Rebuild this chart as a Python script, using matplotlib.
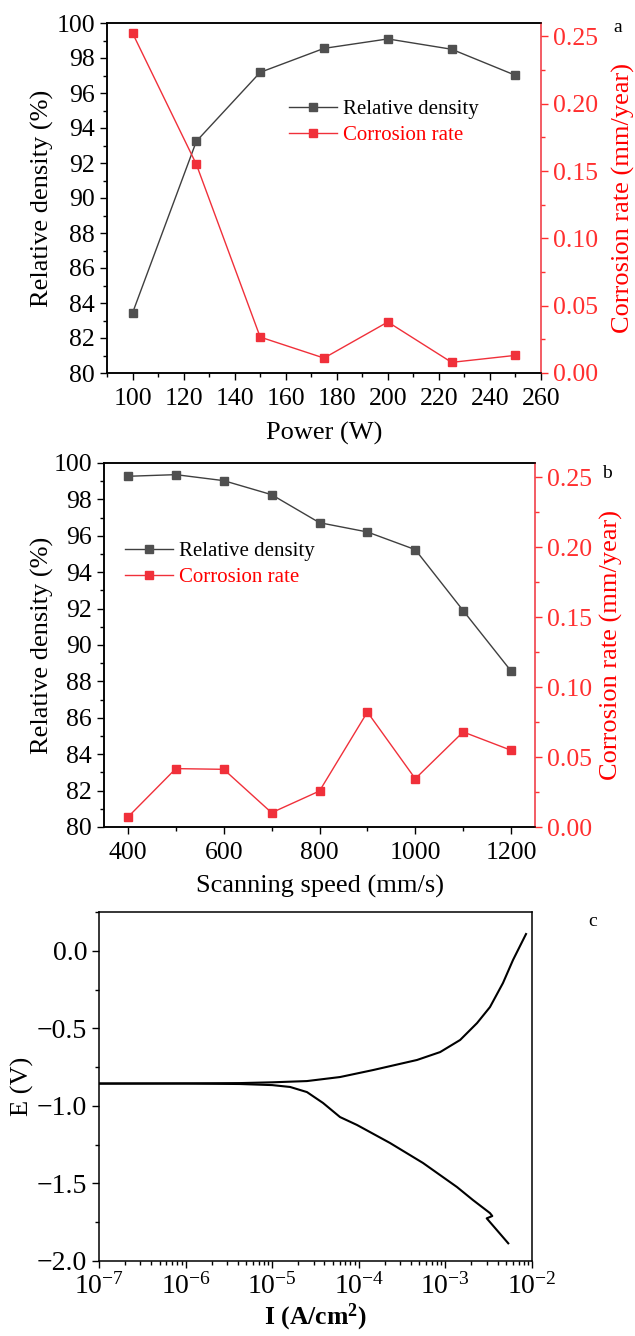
import matplotlib
matplotlib.use("Agg")
import matplotlib.pyplot as plt
import numpy as np
from matplotlib.ticker import (MultipleLocator, LogLocator, NullFormatter,
                               FormatStrFormatter, FuncFormatter)

plt.rcParams['font.family'] = ['Liberation Serif', 'DejaVu Serif']
plt.rcParams['mathtext.fontset'] = 'custom'
plt.rcParams['mathtext.rm'] = 'Liberation Serif'
plt.rcParams['mathtext.it'] = 'Liberation Serif:italic'
plt.rcParams['mathtext.bf'] = 'Liberation Serif:bold'
plt.rcParams['axes.unicode_minus'] = True

# ---- Panel a data ----
power = [100, 125, 150, 175, 200, 225, 250]
density_a = [83.43, 93.24, 97.18, 98.55, 99.09, 98.50, 97.01]
corrosion_a = [0.2525, 0.155, 0.0267, 0.0111, 0.0379, 0.0079, 0.0131]

# ---- Panel b data ----
speed = [400, 500, 600, 700, 800, 900, 1000, 1100, 1200]
density_b = [99.27, 99.36, 99.03, 98.26, 96.72, 96.21, 95.24, 91.89, 88.57]
corrosion_b = [0.0071, 0.0417, 0.0412, 0.0102, 0.0257, 0.0821, 0.0345, 0.0679, 0.0548]

# ---- Panel c data (polarization curve) ----
anodic_I = [1e-7, 1e-6, 4.25e-6, 1e-5, 2.52e-5, 6.07e-5, 1.46e-4, 4.7e-4, 8.7e-4,
            1.48e-3, 2.32e-3, 3.27e-3, 4.62e-3, 6.04e-3, 8.53e-3]
anodic_E = [-0.856, -0.855, -0.853, -0.848, -0.840, -0.814, -0.769, -0.704, -0.653,
            -0.575, -0.466, -0.363, -0.208, -0.059, 0.108]
cathodic_I = [1e-7, 1e-6, 4.25e-6, 1e-5, 1.61e-5, 2.52e-5, 3.86e-5, 6.07e-5, 9.53e-5,
              2.29e-4, 5.51e-4, 1.36e-3, 2.08e-3, 3.27e-3, 3.48e-3, 3.0e-3, 5.32e-3]
cathodic_E = [-0.856, -0.856, -0.859, -0.866, -0.878, -0.911, -0.981, -1.072, -1.123,
              -1.239, -1.368, -1.523, -1.607, -1.691, -1.710, -1.725, -1.886]

GRAY = '#3f3f3f'
MGRAY = '#505050'
RED = '#f0303a'
LRED = '#ff2f2f'

W, H = 635, 1336
fig = plt.figure(figsize=(W / 100, H / 100), dpi=100)


def ax_rect(left, top, right, bottom):
    return [left / W, 1 - bottom / H, (right - left) / W, (bottom - top) / H]


TICK_FS = 18.5
LABEL_FS = 19


def style_dual(ax, ax2, lpad_left, lpad_right):
    ax.tick_params(axis='both', which='major', direction='out', length=5, width=1,
                   labelsize=TICK_FS, colors='black')
    ax.tick_params(axis='x', which='major', pad=5.5)
    ax.tick_params(axis='both', which='minor', direction='out', length=3, width=1)
    ax.tick_params(axis='x', which='both', top=False)
    ax2.tick_params(axis='y', which='major', direction='out', length=5, width=1,
                    labelsize=TICK_FS, colors=LRED)
    ax2.tick_params(axis='y', which='minor', direction='out', length=3, width=1, colors=LRED)
    for s in ['left', 'bottom', 'top']:
        ax.spines[s].set_linewidth(1.1)
        ax2.spines[s].set_linewidth(1.1)
    ax2.spines['right'].set_color(RED)
    ax2.spines['right'].set_linewidth(1.1)
    ax.spines['right'].set_visible(False)
    ax2.yaxis.set_major_formatter(FormatStrFormatter('%.2f'))
    ax2.yaxis.set_major_locator(MultipleLocator(0.05))
    ax2.yaxis.set_minor_locator(MultipleLocator(0.025))
    ax2.set_ylim(0, 0.26)
    ax.set_ylim(80, 100)
    ax.yaxis.set_major_locator(MultipleLocator(2))
    ax.yaxis.set_minor_locator(MultipleLocator(1))
    ax.set_ylabel('Relative density (%)', fontsize=LABEL_FS, labelpad=lpad_left)
    ax2.set_ylabel('Corrosion rate (mm/year)', fontsize=LABEL_FS, color='red',
                   labelpad=lpad_right)


def plot_dual(ax, ax2, x, d, c):
    l1, = ax.plot(x, d, '-s', color=GRAY, lw=1.0, ms=5.5, mfc=MGRAY, mec=MGRAY,
                  label='Relative density')
    l2, = ax2.plot(x, c, '-s', color=RED, lw=1.0, ms=5.5, mfc=RED, mec=RED,
                   label='Corrosion rate')
    return l1, l2


# Panel a
axa = fig.add_axes(ax_rect(107, 23, 541, 373))
axa2 = axa.twinx()
l1, l2 = plot_dual(axa, axa2, power, density_a, corrosion_a)
style_dual(axa, axa2, 1.5, 10)
axa.set_xlim(90, 260)
axa.xaxis.set_major_locator(MultipleLocator(20))
axa.xaxis.set_minor_locator(MultipleLocator(10))
axa.set_xticks(range(100, 261, 20))
axa.set_xlabel('Power (W)', fontsize=LABEL_FS, labelpad=9)
leg = axa2.legend([l1, l2], ['Relative density', 'Corrosion rate'], loc='upper left',
                  bbox_to_anchor=(0.42, 0.781), frameon=False, fontsize=15,
                  handlelength=2.3, handletextpad=0.3, labelspacing=0.3,
                  borderpad=0, borderaxespad=0)
leg.get_texts()[1].set_color('red')
fig.text(618 / W, 1 - 27 / H, 'a', fontsize=14, ha='center', va='center')

# Panel b
axb = fig.add_axes(ax_rect(104, 463, 535, 827))
axb2 = axb.twinx()
l1, l2 = plot_dual(axb, axb2, speed, density_b, corrosion_b)
style_dual(axb, axb2, 0, 6)
axb.set_xlim(350, 1250)
axb.xaxis.set_major_locator(MultipleLocator(200))
axb.xaxis.set_minor_locator(MultipleLocator(100))
axb.set_xlabel('Scanning speed (mm/s)', fontsize=LABEL_FS, labelpad=8)
leg = axb2.legend([l1, l2], ['Relative density', 'Corrosion rate'], loc='upper left',
                  bbox_to_anchor=(0.049, 0.784), frameon=False, fontsize=15,
                  handlelength=2.3, handletextpad=0.3, labelspacing=0.32,
                  borderpad=0, borderaxespad=0)
leg.get_texts()[1].set_color('red')
fig.text(607 / W, 1 - 473 / H, 'b', fontsize=14, ha='center', va='center')

# Panel c
axc = fig.add_axes(ax_rect(99, 912, 532, 1261))
axc.plot(anodic_I, anodic_E, '-', color='black', lw=1.5)
axc.plot(cathodic_I, cathodic_E, '-', color='black', lw=1.5)
axc.set_xscale('log')
axc.set_xlim(1e-7, 1e-2)
axc.set_ylim(-2.0, 0.25)
axc.yaxis.set_major_locator(MultipleLocator(0.5))
axc.yaxis.set_minor_locator(MultipleLocator(0.25))
axc.yaxis.set_major_formatter(FuncFormatter(lambda v, p: f"{v:.1f}".replace('-', '\u2212')))
axc.xaxis.set_major_locator(LogLocator(base=10, numticks=10))
axc.xaxis.set_minor_locator(LogLocator(base=10, subs=np.arange(2, 10), numticks=20))
axc.xaxis.set_minor_formatter(NullFormatter())
axc.tick_params(axis='both', which='major', direction='out', length=5, width=1,
                labelsize=20, top=False, right=False)
axc.tick_params(axis='x', which='major', pad=4)
axc.tick_params(axis='both', which='minor', direction='out', length=3, width=1,
                top=False, right=False)
for s in axc.spines.values():
    s.set_linewidth(1.1)
axc.set_ylabel('E (V)', fontsize=LABEL_FS, labelpad=2)
axc.set_xlabel(r'I (A/cm$^{\mathbf{2}}$)', fontsize=18.5, fontweight='bold',
               labelpad=1)
fig.text(593 / W, 1 - 922 / H, 'c', fontsize=14, ha='center', va='center')

fig.savefig('out.png', dpi=100, facecolor='white')
